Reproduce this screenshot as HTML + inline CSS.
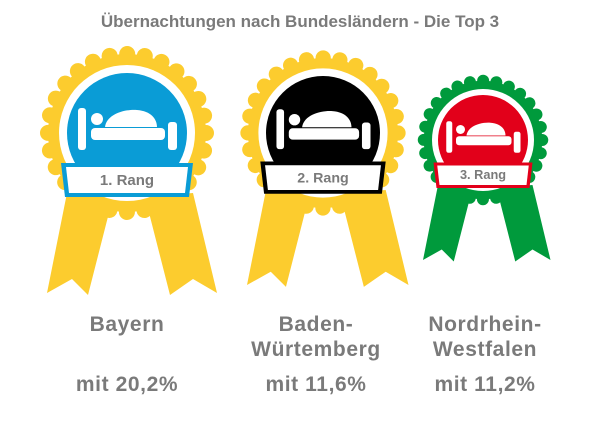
<!DOCTYPE html>
<html><head><meta charset="utf-8"><style>
html,body{margin:0;padding:0;background:#fff;}
svg{display:block;}
text{font-family:"Liberation Sans",Arial,sans-serif;font-weight:bold;fill:#7a7a7a;}
</style></head><body>
<svg width="600" height="423" viewBox="0 0 600 423" xmlns="http://www.w3.org/2000/svg">
<defs>
<g id="icon" fill="#fff">
  <rect x="-49" y="-25" width="8" height="42" rx="3"/>
  <rect x="41" y="-11" width="9" height="28" rx="3"/>
  <rect x="-36" y="-5" width="74" height="12" rx="4"/>
  <circle cx="-30" cy="-14" r="6"/>
  <path d="M-22,-6 C-20,-20 0,-24 10,-23 C24,-22 30,-14 30,-6 Z"/>
</g>
</defs>

<text x="300" y="27" font-size="17" text-anchor="middle">Übernachtungen nach Bundesländern - Die Top 3</text>

<g transform="translate(127,133)">
  <g fill="#fccc2e">
    <polygon points="-60,60 -14,64 -39,162 -55,146 -80,160"/>
    <polygon points="18,64 66,60 90,160 66,146 43,162"/>
  </g>
  <circle r="79" fill="#fccc2e"/>
  <circle r="79" fill="none" stroke="#fccc2e" stroke-width="16" stroke-linecap="round" stroke-dasharray="0.01 17.72"/>
  <circle r="68" fill="#fff"/>
  <circle r="60" fill="#0a9cd6"/>
  <use href="#icon"/>
  <polygon points="-66,30 66,30 62,64 -62,64" fill="#0a9cd6"/>
  <polygon points="-61,34 61,34 58,60 -58,60" fill="#fff"/>
  <text x="0" y="52" font-size="15" text-anchor="middle">1. Rang</text>
</g>

<g transform="translate(323,133) scale(0.95)">
  <g fill="#fccc2e">
    <polygon points="-60,60 -14,64 -39,162 -55,146 -80,160"/>
    <polygon points="18,64 66,60 90,160 66,146 43,162"/>
  </g>
  <circle r="79" fill="#fccc2e"/>
  <circle r="79" fill="none" stroke="#fccc2e" stroke-width="16" stroke-linecap="round" stroke-dasharray="0.01 17.72"/>
  <circle r="68" fill="#fff"/>
  <circle r="60" fill="#000"/>
  <use href="#icon"/>
  <polygon points="-66,30 66,30 62,64 -62,64" fill="#000"/>
  <polygon points="-61,34 61,34 58,60 -58,60" fill="#fff"/>
  <text x="0" y="52" font-size="15" text-anchor="middle">2. Rang</text>
</g>

<g transform="translate(483,140) scale(0.75)">
  <g fill="#009a3c">
    <polygon points="-60,60 -14,64 -39,162 -55,146 -80,160"/>
    <polygon points="18,64 66,60 90,160 66,146 43,162"/>
  </g>
  <circle r="79" fill="#009a3c"/>
  <circle r="79" fill="none" stroke="#009a3c" stroke-width="16" stroke-linecap="round" stroke-dasharray="0.01 17.72"/>
  <circle r="68" fill="#fff"/>
  <circle r="60" fill="#e2001a"/>
  <use href="#icon"/>
  <polygon points="-66,30 66,30 62,64 -62,64" fill="#e2001a"/>
  <polygon points="-61,34 61,34 58,60 -58,60" fill="#fff"/>
  <text x="0" y="52" font-size="17" text-anchor="middle">3. Rang</text>
</g>

<g font-size="21" text-anchor="middle" letter-spacing="0.6">
  <text x="127" y="331">Bayern</text>
  <text x="316" y="331">Baden-</text>
  <text x="316" y="356">Würtemberg</text>
  <text x="485" y="331">Nordrhein-</text>
  <text x="485" y="356">Westfalen</text>
  <text x="127" y="391">mit 20,2%</text>
  <text x="316" y="391">mit 11,6%</text>
  <text x="485" y="391">mit 11,2%</text>
</g>
</svg>
</body></html>
